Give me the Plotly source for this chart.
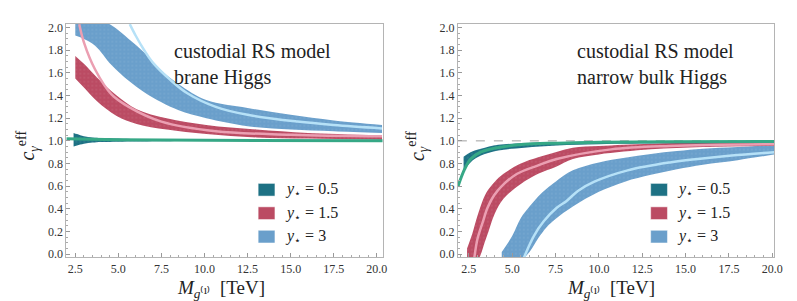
import plotly.graph_objects as go

# ---------------- data ----------------
# Left panel: brane Higgs
L_blue_band_x = [2.5, 3.0, 3.65, 4.6, 5.6, 6.5, 7.5, 8.5, 10.1, 12.5, 15.0, 17.5, 20.3]
L_blue_band_hi = [2.10, 2.10, 2.08, 2.02, 1.90, 1.78, 1.62, 1.50, 1.36, 1.29, 1.23, 1.18, 1.14]
L_blue_band_lo = [1.93, 1.90, 1.84, 1.67, 1.53, 1.43, 1.34, 1.27, 1.20, 1.13, 1.10, 1.085, 1.07]

L_red_band_x = [2.5, 3.0, 3.76, 4.9, 6.06, 7.8, 10.1, 13.0, 16.0, 20.3]
L_red_band_hi = [1.75, 1.68, 1.56, 1.40, 1.28, 1.20, 1.14, 1.10, 1.07, 1.05]
L_red_band_lo = [1.55, 1.47, 1.35, 1.22, 1.15, 1.10, 1.06, 1.03, 1.02, 1.01]

L_teal_band_x = [2.4, 2.6, 3.0, 3.5, 4.0, 5.0, 6.0, 8.0, 10.0, 15.0, 20.3]
L_teal_band_hi = [1.07, 1.06, 1.04, 1.03, 1.025, 1.02, 1.015, 1.01, 1.008, 1.005, 1.004]
L_teal_band_lo = [0.95, 0.96, 0.975, 0.985, 0.99, 0.993, 0.995, 0.997, 0.998, 0.999, 0.999]

L_blue_curve_x = [5.66, 6.0, 6.5, 7.0, 8.0, 9.0, 10.65, 12.5, 15.4, 17.5, 20.3]
L_blue_curve_y = [2.03, 1.93, 1.80, 1.69, 1.54, 1.42, 1.30, 1.23, 1.17, 1.14, 1.11]
L_red_curve_x = [2.73, 3.0, 3.65, 4.6, 5.6, 7.5, 10.65, 15.0, 20.3]
L_red_curve_y = [2.03, 1.87, 1.63, 1.41, 1.30, 1.17, 1.085, 1.055, 1.04]
L_green_curve_x = [1.98, 5.0, 10.0, 20.34]
L_green_curve_y = [1.018, 1.01, 1.005, 1.0]

# Right panel: narrow bulk Higgs
R_blue_band_x = [4.4, 5.0, 5.5, 6.0, 6.5, 7.0, 7.5, 8.5, 10.0, 11.5, 13.0, 14.5, 16.0, 18.0, 20.1]
R_blue_band_hi = [0.02, 0.16, 0.32, 0.42, 0.51, 0.58, 0.64, 0.74, 0.81, 0.85, 0.885, 0.91, 0.93, 0.945, 0.96]
R_blue_band_lo = [-0.05, -0.05, -0.05, 0.02, 0.14, 0.24, 0.31, 0.42, 0.55, 0.64, 0.70, 0.75, 0.79, 0.83, 0.88]

R_red_band_x = [2.4, 2.7, 3.0, 3.5, 4.0, 4.5, 5.5, 6.5, 7.5, 8.5, 10.0, 13.0, 16.0, 20.1]
R_red_band_hi = [0.05, 0.18, 0.34, 0.54, 0.64, 0.71, 0.80, 0.855, 0.90, 0.94, 0.955, 0.975, 0.985, 0.99]
R_red_band_lo = [-0.05, -0.05, -0.05, 0.14, 0.36, 0.49, 0.62, 0.71, 0.77, 0.84, 0.88, 0.925, 0.945, 0.955]

R_teal_band_x = [2.2, 2.6, 3.2, 4.2, 5.7, 7.6, 10.0, 14.0, 20.1]
R_teal_band_hi = [0.86, 0.90, 0.93, 0.965, 0.98, 0.99, 0.993, 0.996, 0.998]
R_teal_band_lo = [0.73, 0.81, 0.87, 0.915, 0.94, 0.96, 0.97, 0.978, 0.985]

R_blue_curve_x = [5.68, 6.25, 6.82, 7.57, 8.14, 8.81, 9.74, 11.66, 14.1, 15.7, 17.65, 20.1]
R_blue_curve_y = [-0.03, 0.16, 0.29, 0.41, 0.47, 0.56, 0.64, 0.74, 0.81, 0.84, 0.87, 0.90]
R_red_curve_x = [2.82, 3.01, 3.30, 3.58, 3.96, 4.53, 5.29, 6.43, 7.57, 10.7, 14.1, 20.1]
R_red_curve_y = [-0.03, 0.14, 0.28, 0.41, 0.52, 0.62, 0.71, 0.78, 0.84, 0.925, 0.955, 0.97]
R_green_curve_x = [1.87, 2.26, 2.61, 3.18, 4.15, 5.68, 7.57, 10.0, 14.0, 20.1]
R_green_curve_y = [0.595, 0.75, 0.84, 0.90, 0.94, 0.97, 0.98, 0.987, 0.992, 0.995]

REF_LINE_Y = 1.0

series_names = ["y⋆ = 0.5", "y⋆ = 1.5", "y⋆ = 3"]
legend_labels = ["<i>y</i><sub>⋆</sub> = 0.5", "<i>y</i><sub>⋆</sub> = 1.5", "<i>y</i><sub>⋆</sub> = 3"]
panel_texts = ["custodial RS model<br>brane Higgs", "custodial RS model<br>narrow bulk Higgs"]
x_ticks = [2.5, 5.0, 7.5, 10.0, 12.5, 15.0, 17.5, 20.0]
y_ticks = [0.0, 0.2, 0.4, 0.6, 0.8, 1.0, 1.2, 1.4, 1.6, 1.8, 2.0]

# ---------------- styles ----------------
C_TEAL = "#1d7184"
C_RED = "#bb4b63"
C_BLUE = "#6a9fcb"
C_GREEN_LINE = "#36a886"
C_PINK_LINE = "#eb9fb2"
C_LBLUE_LINE = "#b6e1f7"
FONT = "Liberation Serif, Times New Roman, serif"

fig = go.Figure()


def band(x, hi, lo, color, xa, ya, name):
    fig.add_trace(go.Scatter(x=x, y=lo, mode="lines", line=dict(width=0, shape="spline"),
                             xaxis=xa, yaxis=ya, showlegend=False, hoverinfo="skip"))
    fig.add_trace(go.Scatter(x=x, y=hi, mode="lines", line=dict(width=0, shape="spline"),
                             fill="tonexty", fillcolor=color,
                             fillpattern=dict(shape=".", fgcolor="rgba(255,255,255,0.3)", bgcolor=color,
                                              size=4, solidity=0.1),
                             xaxis=xa, yaxis=ya, showlegend=False, name=name))


def curve(x, y, color, width, xa, ya, name):
    fig.add_trace(go.Scatter(x=x, y=y, mode="lines", line=dict(color=color, width=width, shape="spline"),
                             xaxis=xa, yaxis=ya, showlegend=False, name=name))


# left panel
band(L_blue_band_x, L_blue_band_hi, L_blue_band_lo, C_BLUE, "x", "y", series_names[2])
band(L_red_band_x, L_red_band_hi, L_red_band_lo, C_RED, "x", "y", series_names[1])
band(L_teal_band_x, L_teal_band_hi, L_teal_band_lo, C_TEAL, "x", "y", series_names[0])
curve(L_blue_curve_x, L_blue_curve_y, C_LBLUE_LINE, 2.5, "x", "y", series_names[2])
curve(L_red_curve_x, L_red_curve_y, C_PINK_LINE, 2.5, "x", "y", series_names[1])
curve(L_green_curve_x, L_green_curve_y, C_GREEN_LINE, 3, "x", "y", series_names[0])

# right panel
band(R_blue_band_x, R_blue_band_hi, R_blue_band_lo, C_BLUE, "x2", "y2", series_names[2])
band(R_red_band_x, R_red_band_hi, R_red_band_lo, C_RED, "x2", "y2", series_names[1])
band(R_teal_band_x, R_teal_band_hi, R_teal_band_lo, C_TEAL, "x2", "y2", series_names[0])
curve(R_blue_curve_x, R_blue_curve_y, C_LBLUE_LINE, 2.5, "x2", "y2", series_names[2])
curve(R_red_curve_x, R_red_curve_y, C_PINK_LINE, 2.5, "x2", "y2", series_names[1])
curve(R_green_curve_x, R_green_curve_y, C_GREEN_LINE, 3, "x2", "y2", series_names[0])

W, H = 797, 301
def px_x(p):
    return p / W
def px_y(p):
    return 1 - p / H

axis_common = dict(showgrid=False, zeroline=False, showline=True, linecolor="#b4b4b4", linewidth=1,
                   mirror=True, ticks="inside", ticklen=4, tickcolor="#999999",
                   tickfont=dict(family=FONT, size=12, color="#333333"))

yaxis_common = dict(axis_common, range=[-0.026, 2.034], tickvals=y_ticks, tickformat=".1f",
                    minor=dict(dtick=0.05, ticklen=2, tickcolor="#aaaaaa", ticks="inside"),
                    domain=[px_y(252), px_y(13)])

fig.update_layout(
    width=W, height=H, margin=dict(l=0, r=0, t=0, b=0),
    paper_bgcolor="white", plot_bgcolor="white", showlegend=False,
    font=dict(family=FONT),
    xaxis=dict(axis_common, range=[1.98, 20.34], tickvals=x_ticks, tickformat=".1f",
               minor=dict(dtick=0.5, ticklen=2, tickcolor="#aaaaaa", ticks="inside"),
               domain=[px_x(59), px_x(379)], anchor="y"),
    yaxis=dict(yaxis_common, anchor="x"),
    xaxis2=dict(axis_common, range=[1.87, 20.11], tickvals=x_ticks, tickformat=".1f",
                minor=dict(dtick=0.5, ticklen=2, tickcolor="#aaaaaa", ticks="inside"),
                domain=[px_x(455), px_x(775)], anchor="y2"),
    yaxis2=dict(yaxis_common, anchor="x2"),
)

# reference line in right panel
fig.add_shape(type="line", xref="x2 domain", yref="y2", x0=0, x1=1, y0=REF_LINE_Y, y1=REF_LINE_Y,
              line=dict(color="#a0a0a0", width=1, dash="dash"), layer="below")

annotations = []
# panel texts
for xpx, txt in [(166, panel_texts[0]), (573, panel_texts[1])]:
    annotations.append(dict(x=px_x(xpx), y=px_y(28), xref="paper", yref="paper", text=txt,
                            xanchor="left", yanchor="top", align="left", showarrow=False,
                            font=dict(family=FONT, size=20, color="#222222")))
# axis titles
for xc in [215, 610]:
    annotations.append(dict(x=px_x(xc), y=px_y(285), xref="paper", yref="paper",
                            text="<i>M</i><sub><i>g</i>⁽¹⁾</sub>  [TeV]", showarrow=False,
                            xanchor="center", yanchor="middle",
                            font=dict(family=FONT, size=19, color="#222222")))
for xc in [20, 414]:
    annotations.append(dict(x=px_x(xc), y=px_y(138), xref="paper", yref="paper",
                            text="<i>c</i><sub><i>γ</i></sub><sup>eff</sup>", showarrow=False,
                            textangle=-90, xanchor="center", yanchor="middle",
                            font=dict(family=FONT, size=20, color="#222222")))
# legends
leg_colors = [C_TEAL, C_RED, C_BLUE]
for x0 in [253, 650]:
    for i, (col, lab) in enumerate(zip(leg_colors, legend_labels)):
        yc = 183 + 24 * i
        fig.add_shape(type="rect", xref="paper", yref="paper",
                      x0=px_x(x0), x1=px_x(x0 + 17), y0=px_y(yc + 6.5), y1=px_y(yc - 6.5),
                      fillcolor=col, line=dict(color="white", width=0.5))
        annotations.append(dict(x=px_x(x0 + 25), y=px_y(yc), xref="paper", yref="paper", text=lab,
                                showarrow=False, xanchor="left", yanchor="middle",
                                font=dict(family=FONT, size=16, color="#222222")))

fig.update_layout(annotations=annotations)
fig.write_html("out.html")
